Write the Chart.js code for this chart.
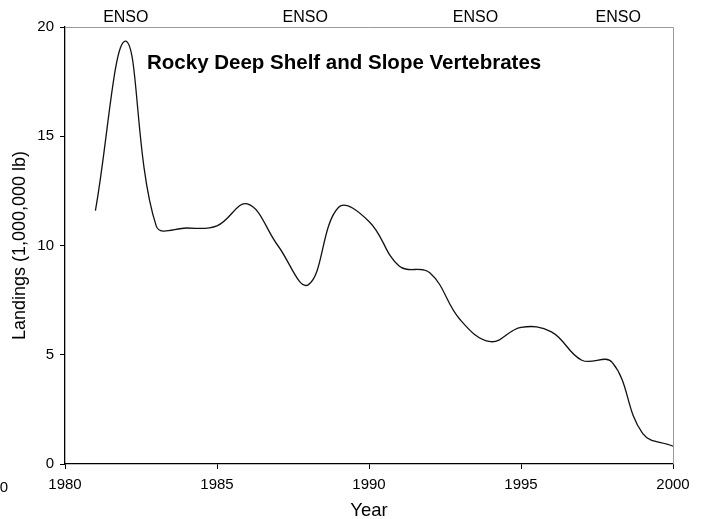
<!DOCTYPE html>
<html>
<head>
<meta charset="utf-8">
<script src="https://cdn.jsdelivr.net/npm/chart.js@4"></script>
<style>
  html, body { margin: 0; padding: 0; background: #fff; }
  #wrap { width: 705px; height: 519px; }
</style>
</head>
<body>
<div id="wrap"><canvas id="landingsChart" width="705" height="519"></canvas></div>
<script>
const years = [1981, 1982, 1983, 1984, 1985, 1986, 1987, 1988, 1989, 1990,
               1991, 1992, 1993, 1994, 1995, 1996, 1997, 1998, 1999, 2000];
const landings = [11.6, 19.35, 10.9, 10.8, 10.9, 11.9, 10.0, 8.2, 11.75, 11.1,
                  9.05, 8.75, 6.6, 5.6, 6.25, 6.05, 4.75, 4.65, 1.4, 0.82];
const ensoYears = [1982, 1987.9, 1993.5, 1998.2];
const ensoLabel = "ENSO";
const chartTitle = "Rocky Deep Shelf and Slope Vertebrates";

const FONT = "'Liberation Sans', Arial, sans-serif";

const extras = {
  id: "extras",
  beforeDatasetsDraw(chart) {
    const { ctx, chartArea: a } = chart;
    ctx.save();
    ctx.strokeStyle = "#9a9a9a";
    ctx.lineWidth = 1;
    ctx.beginPath();
    ctx.moveTo(a.left, a.top + 0.5);
    ctx.lineTo(a.right + 0.5, a.top + 0.5);
    ctx.lineTo(a.right + 0.5, a.bottom);
    ctx.stroke();
    ctx.restore();
  },
  afterDraw(chart) {
    const { ctx, chartArea: a, scales } = chart;
    ctx.save();
    ctx.fillStyle = "#000";
    ctx.font = "16px " + FONT;
    ctx.textAlign = "center";
    ctx.textBaseline = "middle";
    ensoYears.forEach(function (yr) {
      ctx.fillText(ensoLabel, scales.x.getPixelForValue(yr), 18);
    });
    ctx.font = "bold 20.5px " + FONT;
    ctx.textAlign = "left";
    ctx.fillText(chartTitle, 147, a.top + 36);
    // clipped label at the far left edge
    ctx.font = "15px " + FONT;
    ctx.textAlign = "right";
    ctx.fillText("2000", 8, 488);
    ctx.restore();
  }
};

new Chart(document.getElementById("landingsChart").getContext("2d"), {
  type: "line",
  data: {
    datasets: [{
      label: "Landings",
      data: years.map((y, i) => ({ x: y, y: landings[i] })),
      borderColor: "#111",
      borderWidth: 1.3,
      pointRadius: 0,
      tension: 0.4,
      fill: false
    }]
  },
  options: {
    responsive: false,
    animation: false,
    layout: { padding: { left: 0, right: 32, top: 27, bottom: 0 } },
    plugins: { legend: { display: false }, tooltip: { enabled: false } },
    scales: {
      x: {
        type: "linear",
        min: 1980,
        max: 2000,
        ticks: { stepSize: 5, color: "#000", font: { size: 15, family: FONT }, padding: 7,
                 callback: v => String(v) },
        grid: { drawOnChartArea: false, tickLength: 5, color: "#000" },
        border: { color: "#000", width: 1.3 },
        title: { display: true, text: "Year", color: "#000",
                 font: { size: 18.5, family: FONT, lineHeight: 0.9 },
                 padding: { top: 0, bottom: 0 } },
        afterFit: s => { s.height = 55; }
      },
      y: {
        min: 0,
        max: 20,
        ticks: { stepSize: 5, color: "#000", font: { size: 15, family: FONT }, padding: 6 },
        grid: { drawOnChartArea: false, tickLength: 5, color: "#000" },
        border: { color: "#000", width: 1.3 },
        title: { display: true, text: "Landings (1,000,000 lb)", color: "#000",
                 font: { size: 18, family: FONT }, padding: { top: 9, bottom: 0 } },
        afterFit: s => { s.width = 65; }
      }
    }
  },
  plugins: [extras]
});
</script>
</body>
</html>
